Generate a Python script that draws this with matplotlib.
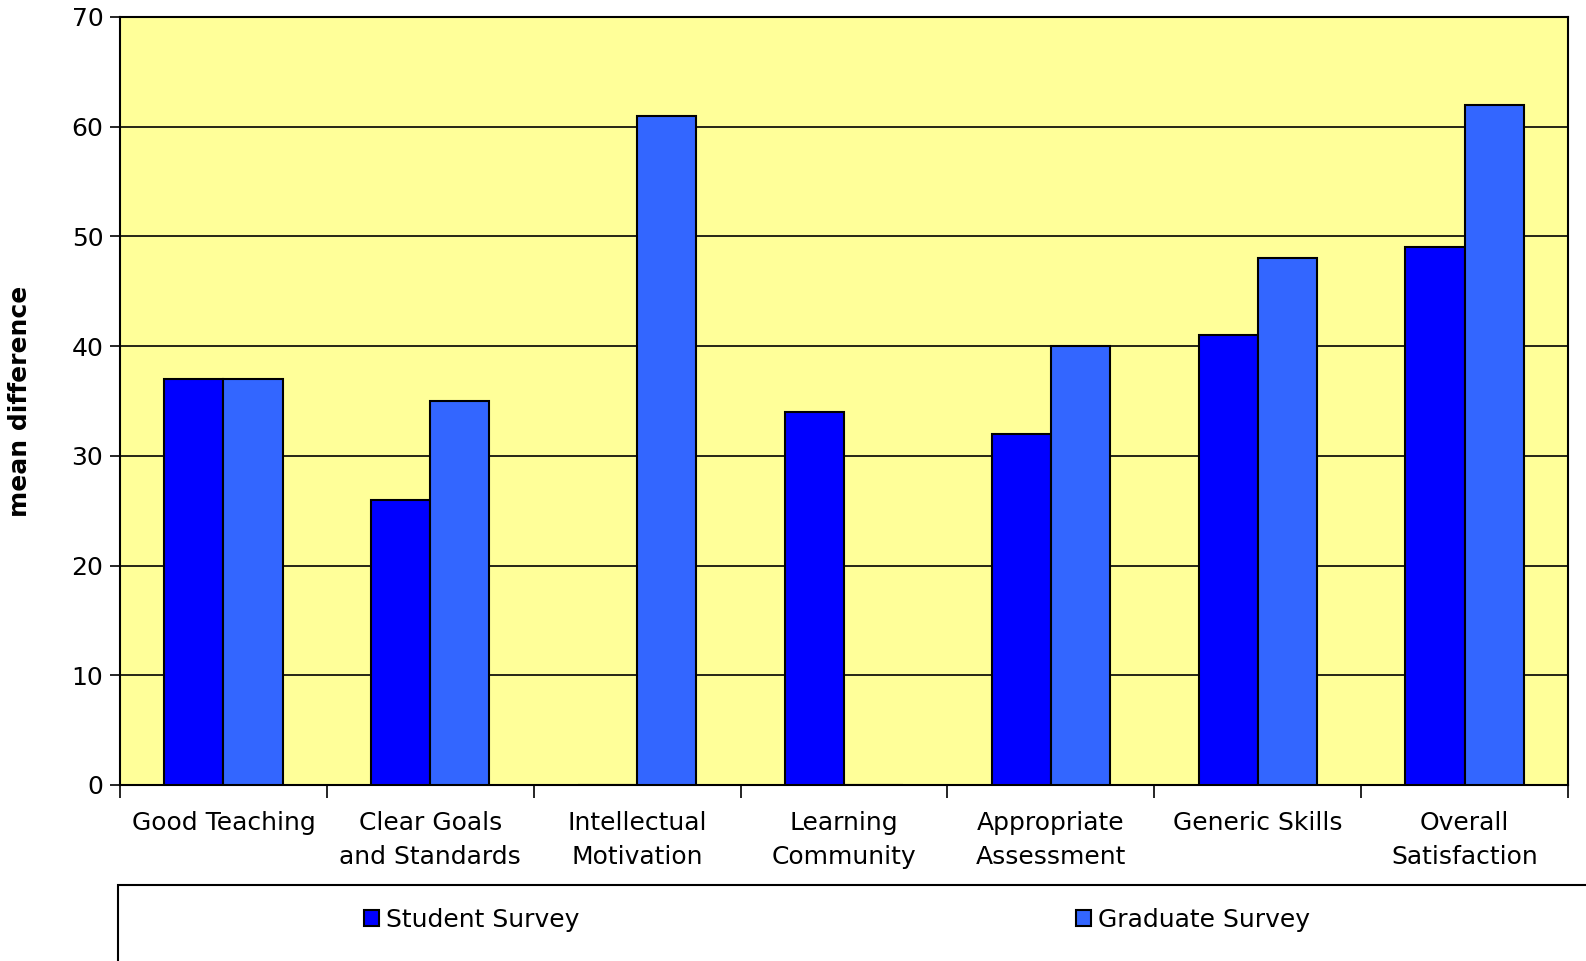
import numpy as np
import matplotlib.pyplot as plt
from matplotlib.patches import Rectangle

# Chart values
categories = ["Good Teaching", "Clear Goals\nand Standards", "Intellectual\nMotivation",
              "Learning\nCommunity", "Appropriate\nAssessment", "Generic Skills",
              "Overall\nSatisfaction"]
student = [37, 26, 0, 34, 32, 41, 49]
graduate = [37, 35, 61, 0, 40, 48, 62]
series_names = ["Student Survey", "Graduate Survey"]
y_ticks = [0, 10, 20, 30, 40, 50, 60, 70]

fig = plt.figure(figsize=(15.86, 9.61), dpi=100)
ax = fig.add_axes([120 / 1586, 1 - 785 / 961, (1568 - 120) / 1586, (785 - 17) / 961])
ax.set_facecolor("#FFFF99")

x = np.arange(len(categories))
w = 1 / 3.5  # Excel style gap width 150%
b1 = ax.bar(x - w / 2, student, w, color="#0000FF", edgecolor="black", linewidth=1.5,
            label=series_names[0], zorder=3)
b2 = ax.bar(x + w / 2, graduate, w, color="#3366FF", edgecolor="black", linewidth=1.5,
            label=series_names[1], zorder=3)

ax.set_xlim(-0.5, len(categories) - 0.5)
ax.set_ylim(0, 70)
ax.set_yticks(y_ticks)
ax.yaxis.grid(True, color="black", linewidth=1.2, zorder=1)
ax.tick_params(axis="y", labelsize=18, length=7, width=1.2, pad=5)

# ticks on group boundaries, labels in the middle
ax.set_xticks(np.arange(len(categories) + 1) - 0.5)
ax.set_xticklabels([])
ax.set_xticks(x, minor=True)
ax.set_xticklabels(categories, minor=True, fontsize=18, linespacing=1.5)
ax.tick_params(axis="x", which="major", length=9, width=1.2)
ax.tick_params(axis="x", which="minor", length=0, pad=19)

for s in ax.spines.values():
    s.set_linewidth(1.5)

ax.set_ylabel("mean difference", fontsize=18, fontweight="bold")
ax.yaxis.set_label_coords(-0.061, 0.5)

# legend box across the bottom
fig.patches.append(Rectangle((118 / 1586, -0.02), 1.0, (961 - 885) / 961 + 0.02,
                             transform=fig.transFigure, facecolor="white",
                             edgecolor="black", linewidth=1.5))
fig.legend(handles=[b1, b2], loc="center left", bbox_to_anchor=(341 / 1586, 1 - 920 / 961),
           ncol=2, frameon=False, fontsize=18, handlelength=0.6, handleheight=0.6,
           handletextpad=0.3, columnspacing=19.85)

fig.savefig("out.png", dpi=100)
